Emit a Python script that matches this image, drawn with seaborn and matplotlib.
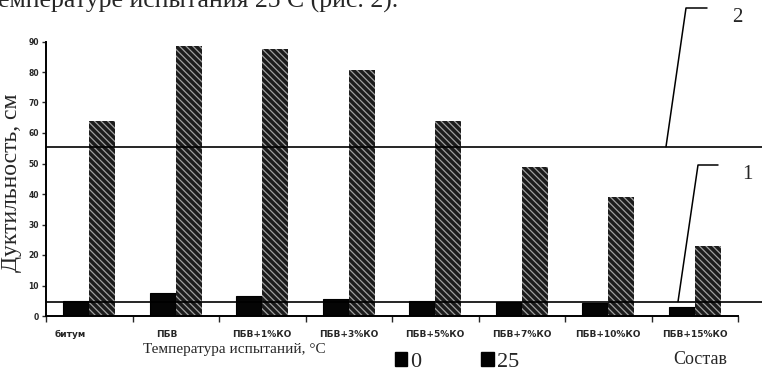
import numpy as np
import pandas as pd
import matplotlib
matplotlib.use("Agg")
import matplotlib.pyplot as plt
import matplotlib.transforms as mtrans
from matplotlib.patches import Patch
from matplotlib.lines import Line2D
import seaborn as sns

# ---- data ----
compositions = ["битум", "ПБВ", "ПБВ+1%КО", "ПБВ+3%КО", "ПБВ+5%КО",
                "ПБВ+7%КО", "ПБВ+10%КО", "ПБВ+15%КО"]
temps = ["0", "25"]
ductility_0 = [5.0, 7.6, 6.6, 5.6, 5.0, 4.6, 4.3, 3.0]
ductility_25 = [64.0, 88.5, 87.5, 80.5, 64.0, 49.0, 39.0, 23.0]
norm_values = [4.7, 55.5]          # line 1 and line 2
norm_labels = ["1", "2"]
y_ticks = [0, 10, 20, 30, 40, 50, 60, 70, 80, 90]

df = pd.DataFrame({
    "Состав": compositions * 2,
    "Дуктильность": ductility_0 + ductility_25,
    "t": [temps[0]] * len(compositions) + [temps[1]] * len(compositions),
})

sns.set_style("ticks")
plt.rcParams["font.family"] = ["Liberation Serif", "DejaVu Serif"]
plt.rcParams["hatch.linewidth"] = 0.9

W, H = 762, 382
fig = plt.figure(figsize=(W / 100, H / 100), dpi=100)
x0, x1, ytop, ybot = 46, 738, 41.5, 316
ax = fig.add_axes([x0 / W, 1 - ybot / H, (x1 - x0) / W, (ybot - ytop) / H])

sns.barplot(data=df, x="Состав", y="Дуктильность", hue="t", hue_order=temps,
            palette=["#050505", "#1c1c1c"], saturation=1, width=0.6, gap=0,
            dodge=True, legend=False, ax=ax, errorbar=None)

for bar in ax.containers[0]:
    bar.set_edgecolor("black")
    bar.set_linewidth(0.8)
for bar in ax.containers[1]:
    bar.set_hatch("\\\\\\\\\\")
    bar.set_edgecolor("#a0a0a0")
    bar.set_linewidth(0)

ax.set_xlim(-0.5, len(compositions) - 0.5)
ax.set_ylim(0, 90)
ax.set_yticks(y_ticks)
ax.set_yticklabels([str(v) for v in y_ticks], family="DejaVu Sans",
                   fontweight="bold", fontsize=5.5)
ax.set_xticks(range(len(compositions)))
ax.set_xticklabels(compositions, family="DejaVu Sans", fontweight="bold",
                   fontsize=6.5)
ax.set_xticks(np.arange(-0.5, len(compositions), 1.0), minor=True)
ax.tick_params(axis="x", which="major", length=0, pad=10)
ax.tick_params(axis="x", which="minor", length=4, width=1, direction="out")
ax.tick_params(axis="y", length=3, width=1, direction="out", pad=2)
# small left shift for the first two labels, as in the scan
shifts = [-19, -9, 0, 0, 0, 0, 0, 0]
for lab, s in zip(ax.get_xticklabels(), shifts):
    lab.set_transform(lab.get_transform() +
                      mtrans.ScaledTranslation(s / 100, 0, fig.dpi_scale_trans))

for side in ["top", "right"]:
    ax.spines[side].set_visible(False)
for side in ["left", "bottom"]:
    ax.spines[side].set_linewidth(1.4)
    ax.spines[side].set_color("black")

# norm lines extending to the right edge of the page
ext = (W - x0) / (x1 - x0)
for v in norm_values:
    ax.axhline(v, xmin=0, xmax=ext, color="black", lw=1.2, clip_on=False,
               zorder=5)

# leader lines and their numbers
def fpt(x, y):
    return x / W, 1 - y / H

def y_px(v):
    return ybot - (ybot - ytop) * v / 90

leaders = [(678, 698, 718, 165, 747, 175), (666, 686, 707, 8, 737, 17)]
for (xa, xb, xc, yc, xt, yt), v, lab in zip(leaders, norm_values, norm_labels):
    pts = [fpt(xa, y_px(v)), fpt(xb, yc), fpt(xc, yc)]
    fig.add_artist(Line2D([p[0] for p in pts], [p[1] for p in pts],
                          color="black", lw=1.1, transform=fig.transFigure))
    fig.text(*fpt(xt, yt), lab, ha="center", va="center", fontsize=15)

ax.set_ylabel("Дуктильность, см", fontsize=17, rotation=90, va="center",
              ha="center")
ax.yaxis.set_label_coords((12 - x0) / (x1 - x0), (ybot - 183) / (ybot - ytop))
ax.set_xlabel("Температура испытаний, °C", fontsize=11, va="center",
              ha="center")
ax.xaxis.set_label_coords((234 - x0) / (x1 - x0), -(349 - ybot) / (ybot - ytop))

fig.text(*fpt(700, 359), "Состав", ha="center", va="center", fontsize=13)

handles = [Patch(facecolor="black", edgecolor="black"),
           Patch(facecolor="black", edgecolor="black")]
fig.legend(handles, temps, loc="center", bbox_to_anchor=fpt(457, 362),
           ncol=2, frameon=False, fontsize=16, handlelength=0.55,
           handleheight=0.6, handletextpad=0.15, columnspacing=2.7,
           borderpad=0, borderaxespad=0)

fig.text(-2 / W, 1 - 8 / H, "емпературе испытания 25 С (рис. 2).",
         ha="left", va="baseline", fontsize=18.5)

fig.savefig("out.png", dpi=100)
